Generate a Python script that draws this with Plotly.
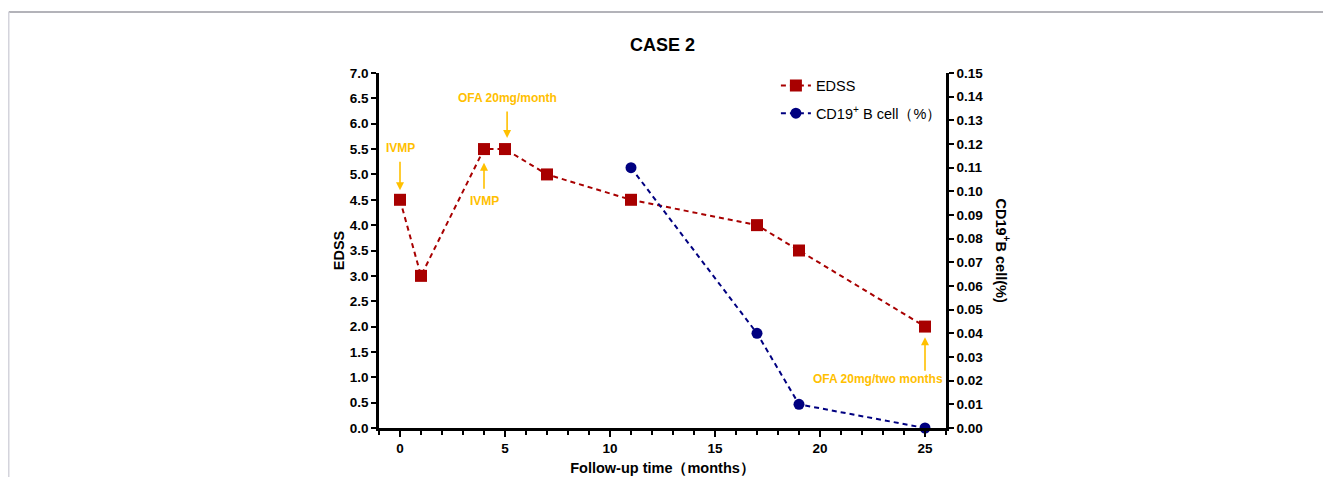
import plotly.graph_objects as go

# ---- data ----
edss_months = [0, 1, 4, 5, 7, 11, 17, 19, 25]
edss_values = [4.5, 3.0, 5.5, 5.5, 5.0, 4.5, 4.0, 3.5, 2.0]
cd19_months = [11, 17, 19, 25]
cd19_values = [0.11, 0.04, 0.01, 0.0]

FONT = "Liberation Sans, Arial, sans-serif"
RED = "#A80000"
NAVY = "#000080"
AMBER = "#FFC000"

# plot area in figure pixels
L, R, T, B = 371, 938, 65, 420
W, H = 1331, 477
PW, PH = R - L, B - T

fig = go.Figure()
fig.add_trace(go.Scatter(
    x=edss_months, y=edss_values, name="EDSS", mode="lines+markers", legendgroup="a",
    line=dict(color=RED, width=2, dash="5px,4px"),
    marker=dict(symbol="square", size=12, color=RED),
))
fig.add_trace(go.Scatter(
    x=cd19_months, y=cd19_values, name="CD19<sup>+</sup> B cell（%）", mode="lines+markers",
    legendgroup="b",
    line=dict(color=NAVY, width=2, dash="5px,4px"),
    marker=dict(symbol="circle", size=11, color=NAVY),
    yaxis="y2", cliponaxis=False,
))

tickfont = dict(family=FONT, size=13.5, color="black", weight="bold")
axis_common = dict(showline=True, linecolor="black", linewidth=2.5, ticks="outside",
                   tickcolor="black", tickwidth=2, showgrid=False, zeroline=False,
                   tickfont=tickfont)

fig.update_layout(
    width=W, height=H,
    margin=dict(l=L, r=W - R, t=T, b=H - B),
    paper_bgcolor="white", plot_bgcolor="white",
    title=dict(text="<b>CASE 2</b>", x=(L + R) / 2 / W, xanchor="center", y=1 - 37 / H,
               yanchor="middle", yref="container",
               font=dict(family=FONT, size=18, color="black")),
    xaxis=dict(range=[-1, 26], tickvals=[0, 5, 10, 15, 20, 25], ticklen=6,
               minor=dict(dtick=1, tick0=0, ticks="outside", ticklen=4, tickwidth=2,
                          tickcolor="black"),
               title=dict(text="Follow-up time（months）", standoff=8,
                          font=dict(family=FONT, size=14.5, color="black", weight="bold")),
               **axis_common),
    yaxis=dict(range=[0, 7], dtick=0.5, tickformat=".1f", ticklen=5,
               title=dict(text="EDSS", standoff=2,
                          font=dict(family=FONT, size=14.5, color="black", weight="bold")),
               **axis_common),
    yaxis2=dict(range=[0, 0.15], dtick=0.01, tickformat=".2f", ticklen=5,
                overlaying="y", side="right", anchor="x", **axis_common),
    legend=dict(x=0.7, y=1.01, xanchor="left", yanchor="top",
                font=dict(family=FONT, size=14.5, color="black"), itemwidth=30,
                bgcolor="rgba(0,0,0,0)", tracegroupgap=6),
    showlegend=True,
)

# right axis title (reads top to bottom)
fig.add_annotation(text="<b>CD19<sup>+</sup>B cell(%)</b>", xref="paper", yref="paper",
                   x=1 + 57 / PW, y=0.5, xanchor="center", yanchor="middle",
                   textangle=90, showarrow=False,
                   font=dict(family=FONT, size=14.5, color="black"))

# treatment annotations
ann_font = dict(family=FONT, size=12, color=AMBER, weight="bold")
texts = [
    ("IVMP", 0, 5.52),
    ("IVMP", 4, 4.48),
    ("OFA 20mg/month", 5.1, 6.51),
    ("OFA 20mg/two months", 22.76, 0.97),
]
for t, x, y in texts:
    fig.add_annotation(text=t, x=x, y=y, xref="x", yref="y", showarrow=False, font=ann_font)

arrows = [
    (0, 5.28, 0, 4.69),
    (4, 4.69, 4, 5.23),
    (5.1, 6.27, 5.1, 5.72),
    (25, 1.10, 25, 1.79),
]
for ax, ay, x, y in arrows:
    fig.add_annotation(text="", x=x, y=y, ax=ax, ay=ay, xref="x", yref="y",
                       axref="x", ayref="y", showarrow=True, arrowhead=2,
                       arrowsize=1, arrowwidth=1.6, arrowcolor=AMBER)

# outer frame lines
fx0 = (0.75 - L) / PW
fy_top = (B - 4) / PH
fig.add_shape(type="line", xref="paper", yref="paper",
              x0=fx0, x1=(W - L) / PW, y0=fy_top, y1=fy_top,
              line=dict(color="#9a9aa2", width=1.5))
fig.add_shape(type="line", xref="paper", yref="paper",
              x0=fx0, x1=fx0, y0=fy_top, y1=(B - H) / PH,
              line=dict(color="#d4d4dc", width=1.5))

fig.write_html("out.html")
